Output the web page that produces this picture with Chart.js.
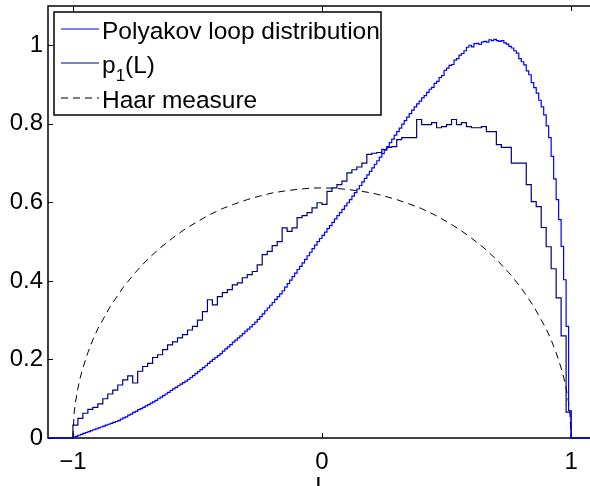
<!DOCTYPE html>
<html>
<head>
<meta charset="utf-8">
<script src="https://cdn.jsdelivr.net/npm/chart.js@4.4.0/dist/chart.umd.min.js"></script>
<style>
  html, body { margin: 0; padding: 0; background: #fff; overflow: hidden; }
  #wrap { position: relative; width: 596px; height: 505px; }
</style>
</head>
<body>
<div id="wrap"><canvas id="chart"></canvas></div>
<script>
// axis ticks
const xTicks = [-1, 0, 1];
const yTicks = [0, 0.2, 0.4, 0.6, 0.8, 1];

// Polyakov loop distribution: histogram, bins of 0.01 from -1 to 1
const polyStart = -1, polyWidth = 0.01;
const polyakov = [
  0.002,0.004,0.007,0.009,0.012,0.014,0.016,0.019,0.021,0.023,0.026,0.028,0.030,0.033,0.035,0.037,0.040,0.042,0.044,0.048,
  0.051,0.054,0.058,0.061,0.065,0.068,0.072,0.075,0.078,0.082,0.085,0.089,0.092,
  0.096,0.100,0.104,0.108,0.112,0.116,0.121,0.125,0.129,0.133,0.137,0.141,0.145,0.149,
  0.154,0.159,0.164,0.169,0.174,0.179,0.184,0.190,0.195,0.200,0.205,0.210,0.215,
  0.221,0.227,0.232,0.238,0.244,0.249,0.255,0.260,0.266,0.272,0.277,0.283,0.289,0.295,
  0.302,0.309,0.316,0.324,0.331,0.338,0.345,0.353,0.360,0.367,0.375,
  0.384,0.393,0.402,0.411,0.420,0.429,0.437,0.446,0.455,0.464,0.473,0.482,0.491,0.500,
  0.508,0.516,0.524,0.533,0.541,0.549,0.558,0.566,0.574,0.582,0.591,0.599,0.607,
  0.616,0.625,0.634,0.643,0.652,0.661,0.670,0.679,0.688,0.697,0.706,0.715,0.724,
  0.733,0.742,0.752,0.761,0.771,0.780,0.789,0.799,0.808,0.817,0.826,0.835,
  0.843,0.851,0.858,0.866,0.872,0.880,0.888,
  0.893,0.903,0.908,0.918,0.923,0.936,
  0.942,0.949,0.951,0.962,0.966,0.975,0.979,0.986,0.995,1.000,
  0.996,1.004,1.005,1.002,1.008,1.010,1.008,1.014,1.012,1.015,
  1.012,1.010,1.012,1.006,1.003,0.997,0.993,0.986,0.980,0.966,
  0.958,0.950,0.935,0.925,0.905,0.892,0.878,0.860,0.843,0.823,
  0.795,0.765,0.717,0.660,0.607,0.556,0.488,0.403,0.284,0.070
];

// p_1(L): histogram, bins of 0.02 from -1 to 1
const p1Start = -1, p1Width = 0.02;
const p1 = [
  0.033,0.050,0.063,0.073,0.078,0.087,0.100,0.112,0.122,0.135,
  0.148,0.158,0.140,0.170,0.182,0.190,0.205,0.212,0.225,0.237,
  0.245,0.255,0.263,0.275,0.284,0.300,0.322,0.352,0.339,0.360,
  0.370,0.378,0.390,0.395,0.408,0.416,0.424,0.441,0.467,0.475,
  0.490,0.500,0.535,0.526,0.535,0.561,0.566,0.574,0.586,0.599,
  0.595,0.628,0.637,0.645,0.654,0.675,0.683,0.690,0.700,0.722,
  0.725,0.727,0.735,0.740,0.742,0.760,0.765,0.765,0.765,0.811,
  0.798,0.798,0.803,0.790,0.793,0.798,0.811,0.798,0.803,0.793,
  0.790,0.790,0.793,0.780,0.780,0.747,0.740,0.740,0.700,0.700,
  0.700,0.645,0.602,0.589,0.536,0.487,0.431,0.357,0.260,0.066
];

// Haar measure curve
const haarL = [-1,-0.995,-0.99,-0.98,-0.97,-0.96,-0.94,-0.92,-0.9,-0.85,-0.8,-0.75,-0.7,-0.65,-0.6,-0.55,-0.5,-0.45,-0.4,-0.35,-0.3,-0.25,-0.2,-0.15,-0.1,-0.05,
  0,0.05,0.1,0.15,0.2,0.25,0.3,0.35,0.4,0.45,0.5,0.55,0.6,0.65,0.7,0.75,0.8,0.85,0.9,0.92,0.94,0.96,0.97,0.98,0.99,0.995,1];
const haarP = [0,0.064,0.090,0.127,0.155,0.178,0.217,0.250,0.278,0.335,0.382,0.421,0.455,0.484,0.509,0.532,0.551,0.569,0.584,0.596,0.607,0.616,0.624,0.629,0.633,0.636,
  0.637,0.636,0.633,0.629,0.624,0.616,0.607,0.596,0.584,0.569,0.551,0.532,0.509,0.484,0.455,0.421,0.382,0.335,0.278,0.250,0.217,0.178,0.155,0.127,0.090,0.064,0];

const xMin = -1.1, xMax = 1.1, yMin = 0, yMax = 1.1;
const FONT = "'Liberation Sans', Arial, Helvetica, sans-serif";

// histogram outline points (bin edges), zero outside
function outline(start, width, vals) {
  const pts = [{x: xMin, y: 0}];
  let prev = 0;
  vals.forEach((v, i) => {
    const e = start + i * width;
    pts.push({x: e, y: prev}, {x: e, y: v});
    prev = v;
  });
  const end = start + vals.length * width;
  pts.push({x: end, y: prev}, {x: end, y: 0}, {x: xMax, y: 0});
  return pts;
}

function fmt(v) {
  return v < 0 ? '\u2212' + Math.abs(v) : String(v);
}

// box + inward ticks, MATLAB style
const frame = {
  id: 'frame',
  beforeDatasetsDraw(chart) {
    const ctx = chart.ctx, a = chart.chartArea;
    const xs = chart.scales.x, ys = chart.scales.y;
    ctx.save();
    ctx.strokeStyle = '#000';
    ctx.lineWidth = 1.5;
    ctx.strokeRect(a.left, a.top, a.right - a.left, a.bottom - a.top);
    ctx.lineWidth = 1;
    ctx.beginPath();
    xTicks.forEach(v => {
      const px = Math.round(xs.getPixelForValue(v)) + 0.5;
      ctx.moveTo(px, a.bottom); ctx.lineTo(px, a.bottom - 5);
      ctx.moveTo(px, a.top); ctx.lineTo(px, a.top + 5);
    });
    yTicks.forEach(v => {
      const py = Math.round(ys.getPixelForValue(v)) + 0.5;
      ctx.moveTo(a.left, py); ctx.lineTo(a.left + 5, py);
      ctx.moveTo(a.right, py); ctx.lineTo(a.right - 5, py);
    });
    ctx.stroke();
    ctx.restore();
  }
};

const legendBox = {
  id: 'legendBox',
  afterDatasetsDraw(chart) {
    const ctx = chart.ctx, a = chart.chartArea;
    const x0 = a.left + 6, y0 = a.top + 6, w = 327, h = 103;
    ctx.save();
    ctx.fillStyle = '#fff';
    ctx.fillRect(x0, y0, w, h);
    ctx.strokeStyle = '#000';
    ctx.lineWidth = 1.5;
    ctx.strokeRect(x0, y0, w, h);
    const rows = [17, 51, 86];
    chart.data.datasets.forEach((ds, i) => {
      const cy = y0 + rows[i];
      ctx.strokeStyle = ds.borderColor;
      ctx.lineWidth = 1;
      ctx.setLineDash(ds.borderDash || []);
      ctx.beginPath();
      ctx.moveTo(x0 + 7, cy); ctx.lineTo(x0 + 45, cy);
      ctx.stroke();
      ctx.setLineDash([]);
      ctx.fillStyle = '#000';
      ctx.textBaseline = 'alphabetic';
      ctx.font = '24.5px ' + FONT;
      let tx = x0 + 48;
      const by = cy + 9.5;
      if (ds.label === 'p_1(L)') {
        ctx.fillText('p', tx, by);
        tx += ctx.measureText('p').width;
        ctx.font = '17px ' + FONT;
        ctx.fillText('1', tx, by + 8);
        tx += ctx.measureText('1').width;
        ctx.font = '24.5px ' + FONT;
        ctx.fillText('(L)', tx, by);
      } else {
        ctx.fillText(ds.label, tx, by);
      }
    });
    ctx.restore();
  }
};

new Chart(document.getElementById('chart'), {
  type: 'line',
  data: {
    datasets: [
      {
        label: 'Polyakov loop distribution',
        data: outline(polyStart, polyWidth, polyakov),
        borderColor: '#0000ff',
        borderWidth: 1.2,
        pointRadius: 0,
        tension: 0,
        fill: false,
        clip: 4
      },
      {
        label: 'p_1(L)',
        data: outline(p1Start, p1Width, p1),
        borderColor: '#000080',
        borderWidth: 1.2,
        pointRadius: 0,
        tension: 0,
        fill: false,
        clip: 4
      },
      {
        label: 'Haar measure',
        data: haarL.map((l, i) => ({x: l, y: haarP[i]})),
        borderColor: '#000000',
        borderWidth: 1,
        borderDash: [7, 5],
        pointRadius: 0,
        tension: 0,
        fill: false
      }
    ]
  },
  options: {
    responsive: true,
    maintainAspectRatio: false,
    animation: false,
    devicePixelRatio: 1,
    layout: { padding: { top: 6, left: 0, right: 0, bottom: 0 } },
    plugins: { legend: { display: false }, tooltip: { enabled: false } },
    scales: {
      x: {
        type: 'linear',
        min: xMin, max: xMax,
        grid: { display: false, drawTicks: false },
        border: { display: false },
        afterBuildTicks: s => { s.ticks = xTicks.map(v => ({value: v})); },
        afterFit: s => { s.height = 67; s.paddingLeft = 0; s.paddingRight = 0; },
        ticks: {
          color: '#000', padding: 10, maxRotation: 0,
          font: { family: FONT, size: 24 },
          callback: v => fmt(v)
        },
        title: {
          display: true, text: 'L', color: '#000',
          font: { family: FONT, size: 24 },
          padding: { top: 0, bottom: 3 }
        }
      },
      y: {
        min: yMin, max: yMax,
        grid: { display: false, drawTicks: false },
        border: { display: false },
        afterBuildTicks: s => { s.ticks = yTicks.map(v => ({value: v})); },
        afterFit: s => { s.width = 48; s.paddingTop = 0; s.paddingBottom = 0; },
        ticks: {
          color: '#000', padding: 5,
          font: { family: FONT, size: 24 },
          callback: v => fmt(v)
        }
      }
    }
  },
  plugins: [frame, legendBox]
});
</script>
</body>
</html>
